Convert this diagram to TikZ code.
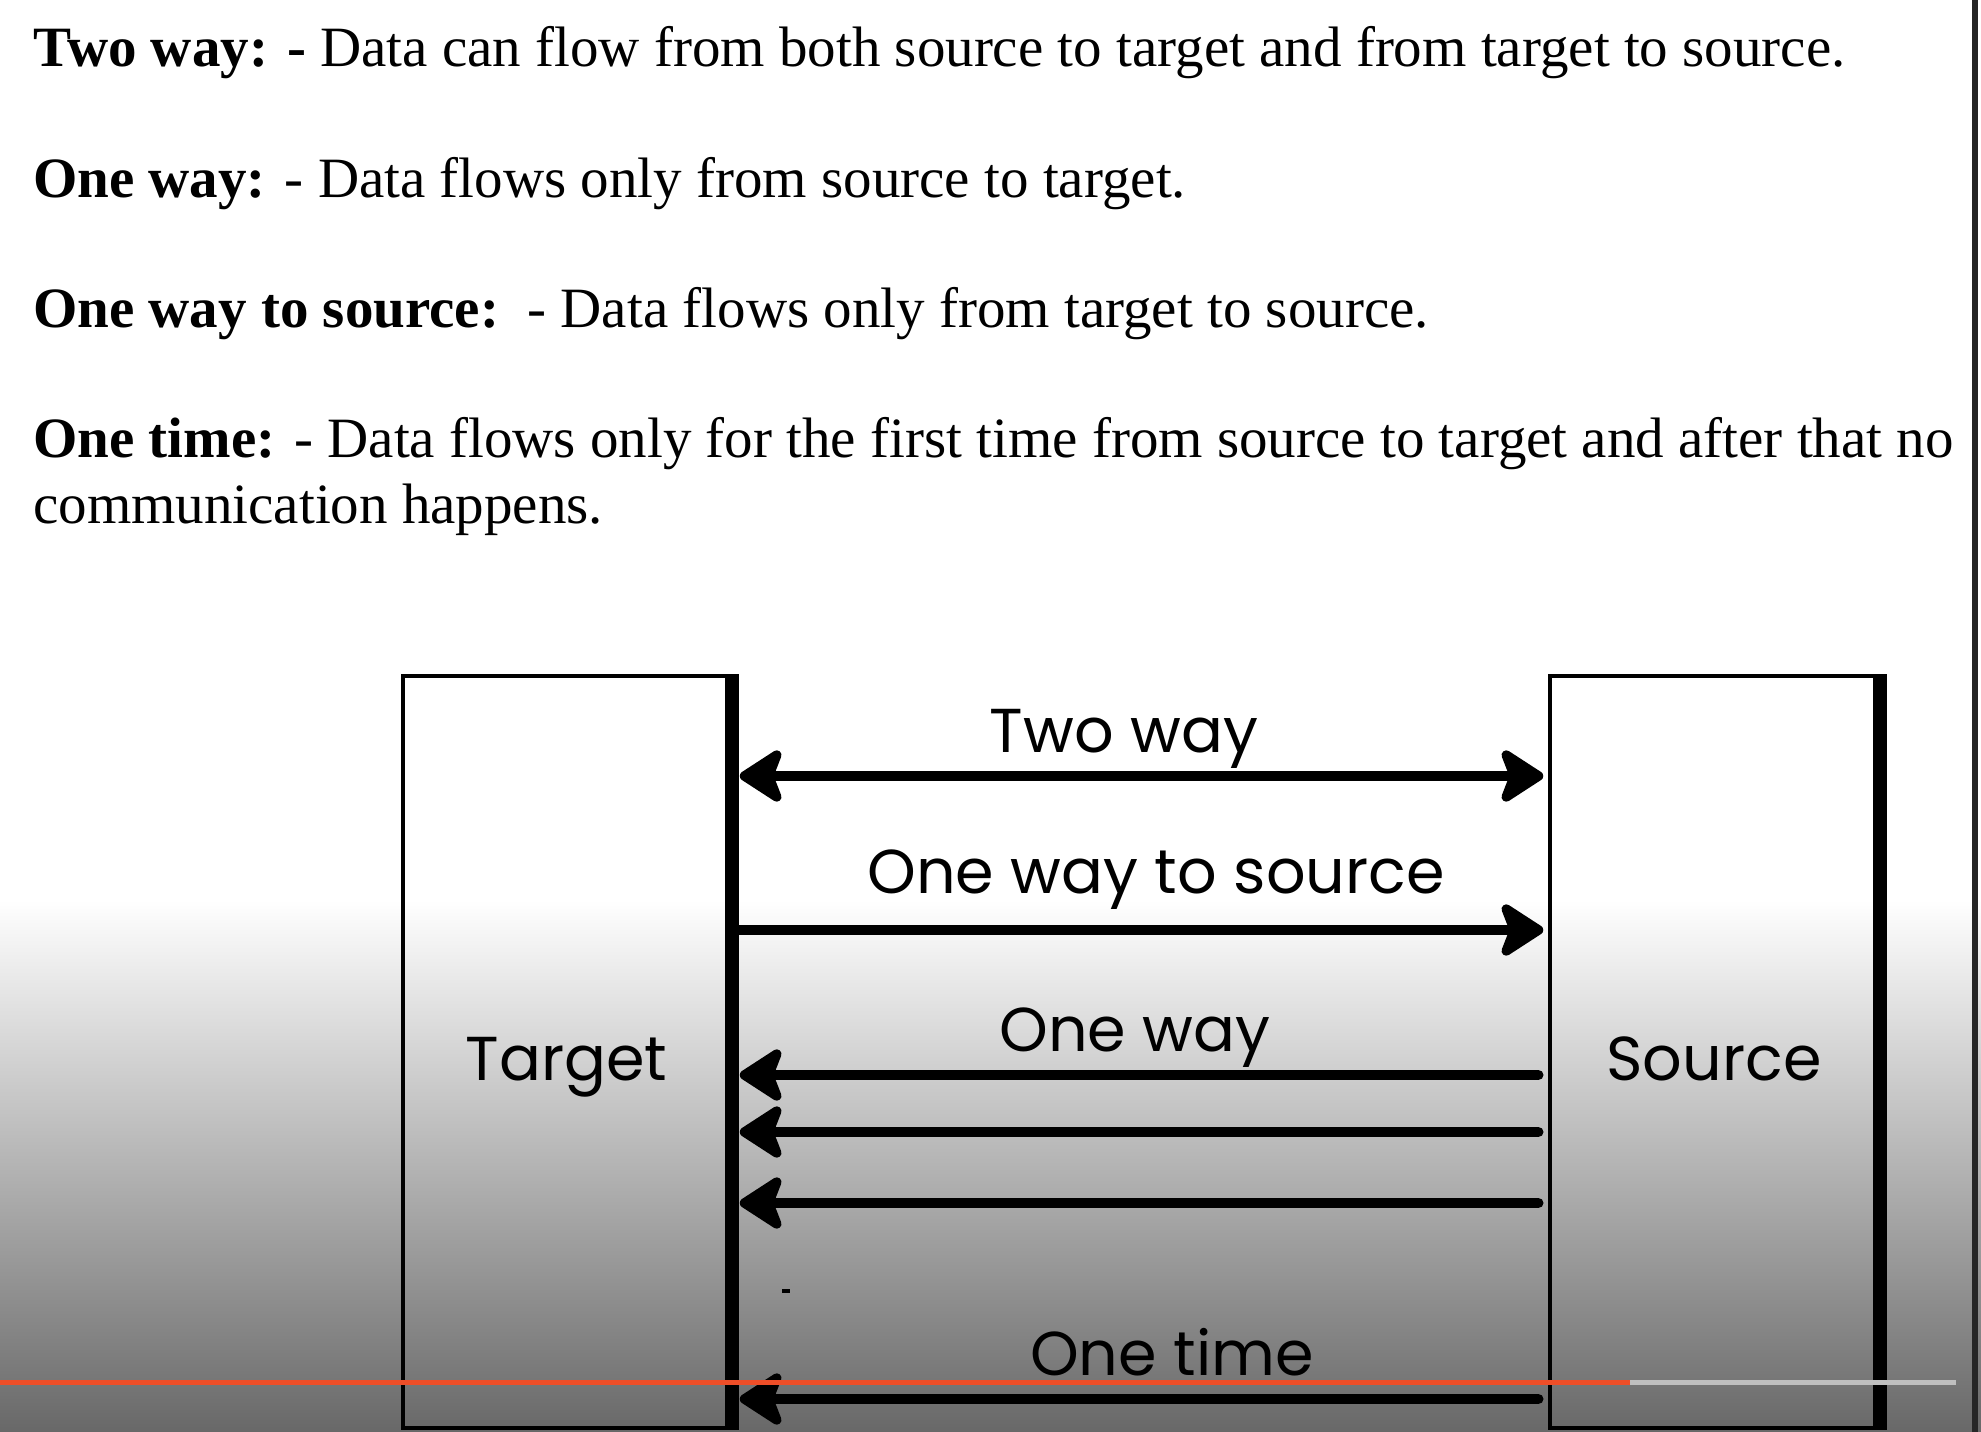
\documentclass[tikz,border=0pt]{standalone}
\usepackage{fontspec}
\setmainfont{Liberation Serif}
\newfontfamily\labelfont{Poppins}
\usetikzlibrary{arrows.meta}
\definecolor{barred}{RGB}{238,78,40}
\definecolor{shadegray}{RGB}{104,104,104}

\begin{document}
\begin{tikzpicture}[x=1pt,y=-1pt,
  >={Stealth[length=50pt,width=64pt,inset=12pt,round]},
  box/.style={draw=black,line width=3.5pt,inner sep=0pt},
  edge/.style={line width=14pt},
  flow/.style={line width=10.5pt,line cap=round},
  tag/.style={font=\labelfont\fontsize{62}{62}\selectfont,anchor=base,inner sep=0pt},
  desc/.style={font=\fontsize{57}{57}\selectfont,anchor=base west,inner sep=0pt}]
  \useasboundingbox (0,0) rectangle (1981,1432);
  % background, darkening towards the bottom
  \fill[white] (0,0) rectangle (1981,900);
  \shade[top color=white,bottom color=shadegray] (0,900) rectangle (1981,1432);
  % definitions
  \node[desc] (twoway) at (33,66) {\textbf{Two way: -} Data can flow from both source to target and from target to source.};
  \node[desc] (oneway) at (33,197) {\textbf{One way:} - Data flows only from source to target.};
  \node[desc] (tosource) at (33,327) {\textbf{One way to source:}\ \ - Data flows only from target to source.};
  \node[desc] (onetime) at (33,457) {\textbf{One time:} - Data flows only for the first time from source to target and after that no};
  \node[desc] (onetime2) at (33,523) {communication happens.};
  % boxes
  \node[box,minimum width=327pt,minimum height=752pt] (tgt) at (566.5,1052) {};
  \node[box,minimum width=328pt,minimum height=752pt] (src) at (1714,1052) {};
  \draw[edge] (tgt.north east) -- (tgt.south east);
  \draw[edge] (src.north east) -- (src.south east);
  \node[tag] (tgtlabel) at (tgt.center |- 0,1080) {Target};
  \node[tag] (srclabel) at (src.center |- 0,1080) {Source};
  % flows
  \draw[flow,<->,shorten <=8pt,shorten >=5pt] (tgt.east |- 0,776) -- (src.west |- 0,776);
  \node[tag] (l1) at (1124,752) {Two way};
  \draw[flow,->,shorten >=5pt] (tgt.east |- 0,930) -- (src.west |- 0,930);
  \node[tag] (l2) at (1156,893) {One way to source};
  \foreach \y in {1075,1132,1203}
    \draw[flow,<-,shorten <=8pt,shorten >=10pt] (tgt.east |- 0,\y) -- (src.west |- 0,\y);
  \node[tag] (l3) at (1135,1051) {One way};
  \draw[line width=4pt] (782,1291) -- (790,1291);
  \draw[flow,<-,shorten <=8pt,shorten >=10pt] (tgt.east |- 0,1399) -- (src.west |- 0,1399);
  \node[tag] (l4) at (1172,1375) {One time};
  % player bar and screen edge
  \draw[line width=5pt,barred] (0,1382) -- (1630,1382);
  \draw[line width=5pt,black!25] (1630,1382) -- (1956,1382);
  \draw[line width=6pt,black!85] (1975,0) -- (1975,1432);
\end{tikzpicture}
\end{document}
